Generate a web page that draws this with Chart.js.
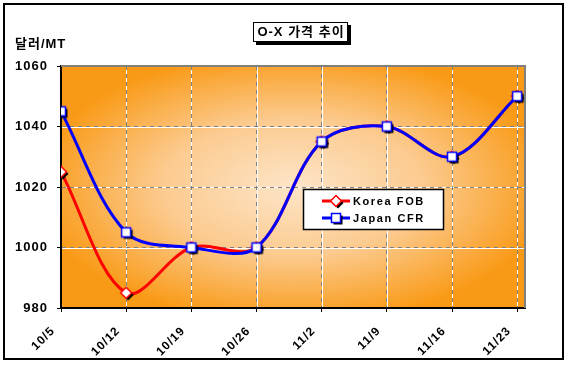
<!DOCTYPE html>
<html><head><meta charset="utf-8">
<script src="https://cdn.jsdelivr.net/npm/chart.js@4"></script>
<style>html,body{margin:0;padding:0;background:#fff}canvas{display:block}</style>
</head><body>
<canvas id="c" width="569" height="368"></canvas>
<script>
const categories = ['10/5','10/12','10/19','10/26','11/2','11/9','11/16','11/23'];
const koreaFOB = [1025, 985, 1000, 1000, 1035, 1040, 1030, 1050];
const japanCFR = [1045, 1005, 1000, 1000, 1035, 1040, 1030, 1050];
const yMin = 980, yMax = 1060, yStep = 20;
const chartTitle = 'O-X 가격 추이';
const yTitle = '달러/MT';
const seriesNames = ['Korea FOB', 'Japan CFR'];

const FONT = "'Liberation Sans', Arial, 'Noto Sans CJK KR', sans-serif";
Chart.defaults.font.family = FONT;

function makeMarker(kind, color) {
  const c = document.createElement('canvas');
  c.width = 22; c.height = 22;
  const g = c.getContext('2d');
  const path = (ox, oy) => {
    g.beginPath();
    if (kind === 'square') {
      g.rect(11 - 4.5 + ox, 11 - 4.5 + oy, 9, 9);
    } else {
      g.moveTo(11 + ox, 11 - 5.5 + oy);
      g.lineTo(11 + 5.5 + ox, 11 + oy);
      g.lineTo(11 + ox, 11 + 5.5 + oy);
      g.lineTo(11 - 5.5 + ox, 11 + oy);
      g.closePath();
    }
  };
  path(2, 2); g.fillStyle = '#000'; g.fill();
  path(0, 0); g.fillStyle = '#fff'; g.fill();
  g.lineWidth = 1.5; g.strokeStyle = color; g.stroke();
  return c;
}
const diamond = makeMarker('diamond', '#ff0000');
const square = makeMarker('square', '#0000ff');

const toXY = arr => arr.map((v, i) => ({x: i, y: v}));

const decor = {
  id: 'decor',
  beforeDraw(chart) {
    const ctx = chart.ctx;
    const {left, top, right, bottom} = chart.chartArea;
    ctx.save();
    ctx.fillStyle = '#fff';
    ctx.fillRect(0, 0, chart.width, chart.height);
    ctx.strokeStyle = '#000'; ctx.lineWidth = 2;
    ctx.strokeRect(4, 4, 559, 355);
    const cx = (left + right) / 2, cy = (top + bottom) / 2;
    const rx = (right - left) / 2, ry = (bottom - top) / 2;
    ctx.save();
    ctx.translate(cx, cy);
    ctx.scale(rx / ry, 1);
    const gr = ctx.createRadialGradient(0, 0, 0, 0, 0, ry * 1.12);
    gr.addColorStop(0, '#FDE5C8');
    gr.addColorStop(0.5, '#FCCB90');
    gr.addColorStop(1, '#F99A16');
    ctx.fillStyle = gr;
    ctx.fillRect(-ry, -ry, 2 * ry, 2 * ry);
    ctx.restore();
    ctx.strokeStyle = '#fff'; ctx.lineWidth = 1;
    const xs = chart.scales.x, ys = chart.scales.y;
    ctx.beginPath();
    for (let i = 1; i < categories.length; i++) {
      const px = Math.round(xs.getPixelForValue(i)) + 0.5;
      ctx.moveTo(px, top); ctx.lineTo(px, bottom);
    }
    for (let v = yMin + yStep; v < yMax; v += yStep) {
      const py = Math.round(ys.getPixelForValue(v)) + 0.5;
      ctx.moveTo(left, py); ctx.lineTo(right, py);
    }
    ctx.stroke();
    ctx.restore();
    ctx.letterSpacing = '1px';
  },
  afterDraw(chart) {
    const ctx = chart.ctx;
    const {left, top, right, bottom} = chart.chartArea;
    ctx.letterSpacing = '0px';
    ctx.save();
    ctx.strokeStyle = '#808080'; ctx.lineWidth = 2;
    ctx.beginPath();
    ctx.moveTo(left, top); ctx.lineTo(right, top); ctx.lineTo(right, bottom);
    ctx.stroke();
    ctx.fillStyle = '#000';
    ctx.fillRect(256, 25, 95, 20);
    ctx.fillStyle = '#fff';
    ctx.fillRect(253, 22, 95, 20);
    ctx.strokeStyle = '#000'; ctx.lineWidth = 1;
    ctx.strokeRect(253.5, 22.5, 94, 19);
    ctx.fillStyle = '#000';
    ctx.font = "bold 13px " + FONT;
    ctx.letterSpacing = '1px';
    ctx.textAlign = 'center'; ctx.textBaseline = 'middle';
    ctx.fillText(chartTitle, 301, 32.5);
    ctx.textAlign = 'left';
    ctx.fillText(yTitle, 15, 44.5);
    ctx.fillStyle = '#fff';
    ctx.fillRect(303, 189, 141, 41);
    ctx.strokeStyle = '#000'; ctx.lineWidth = 1.5;
    ctx.strokeRect(303.5, 189.5, 140, 40);
    const rows = [[seriesNames[0], '#ff0000', diamond, 201], [seriesNames[1], '#0000ff', square, 218]];
    ctx.font = "bold 11px " + FONT;
    ctx.letterSpacing = '1.6px';
    for (const [name, col, img, y] of rows) {
      ctx.strokeStyle = col; ctx.lineWidth = 3;
      ctx.beginPath(); ctx.moveTo(322, y); ctx.lineTo(350, y); ctx.stroke();
      ctx.drawImage(img, 336 - 11, y - 11);
      ctx.fillStyle = '#000';
      ctx.textAlign = 'left'; ctx.textBaseline = 'middle';
      ctx.fillText(name, 353, y + 0.5);
    }
    ctx.restore();
    ctx.letterSpacing = '0px';
  }
};

new Chart(document.getElementById('c'), {
  type: 'line',
  data: {
    datasets: [
      {label: seriesNames[0], data: toXY(koreaFOB), borderColor: '#ff0000', borderWidth: 3,
       pointStyle: diamond, pointRadius: 6, tension: 0.34, order: 1},
      {label: seriesNames[1], data: toXY(japanCFR), borderColor: '#0000ff', borderWidth: 3,
       pointStyle: square, pointRadius: 6, tension: 0.34, order: 0}
    ]
  },
  options: {
    responsive: false,
    animation: false,
    devicePixelRatio: 1,
    layout: {padding: {top: 66, right: 44, left: 0, bottom: 0}},
    plugins: {legend: {display: false}, tooltip: {enabled: false}, title: {display: false}},
    scales: {
      x: {
        type: 'linear', min: 0, max: 7.12,
        border: {display: true, color: '#000', width: 2, dash: [4, 4]},
        grid: {color: '#808080', lineWidth: 1, drawTicks: true, tickLength: 4, tickColor: '#000', tickWidth: 1, tickBorderDash: []},
        ticks: {stepSize: 1, includeBounds: false, autoSkip: false, minRotation: 45, maxRotation: 45,
          padding: 12, labelOffset: -8, color: '#000', font: {size: 12, weight: 'bold'},
          callback: v => categories[v]},
        afterFit: s => { s.height = 60; }
      },
      y: {
        min: yMin, max: yMax,
        border: {display: true, color: '#000', width: 2, dash: [4, 4]},
        grid: {color: '#808080', lineWidth: 1, drawTicks: true, tickLength: 4, tickColor: '#000', tickWidth: 1, tickBorderDash: []},
        ticks: {stepSize: yStep, padding: 9, color: '#000', font: {size: 13, weight: 'bold'},
          callback: v => String(v)},
        afterFit: s => { s.width = 61; }
      }
    }
  },
  plugins: [decor]
});
</script>
</body></html>
